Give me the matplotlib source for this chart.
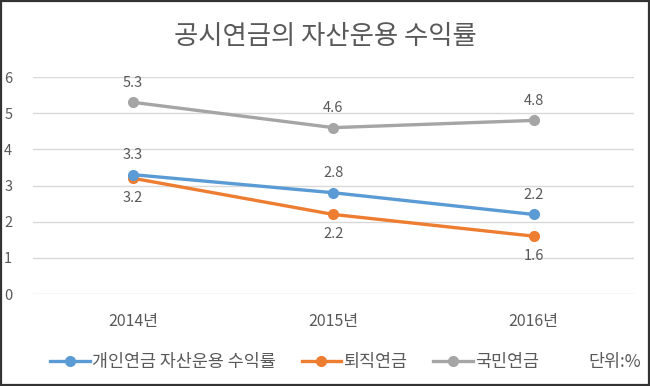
import matplotlib
matplotlib.use("Agg")
import matplotlib.pyplot as plt
from matplotlib.patches import Rectangle

plt.rcParams["font.family"] = ["Noto Sans CJK KR", "DejaVu Sans"]

# data
years = ["2014년", "2015년", "2016년"]
personal = [3.3, 2.8, 2.2]
retire = [3.2, 2.2, 1.6]
national = [5.3, 4.6, 4.8]
series_names = ["개인연금 자산운용 수익률", "퇴직연금", "국민연금"]
colors = ["#5B9BD5", "#ED7D31", "#A5A5A5"]
yticks = [0, 1, 2, 3, 4, 5, 6]

TXT = "#595959"

fig = plt.figure(figsize=(6.5, 3.86), dpi=100)
ax = fig.add_axes([0.0508, 0.2383, 0.9242, 0.5622])

x = list(range(len(years)))
# national first so the other two sit on top
ax.plot(x, national, color=colors[2], lw=2.4, marker="o", ms=7, label=series_names[2], zorder=3)
ax.plot(x, retire, color=colors[1], lw=2.4, marker="o", ms=7, label=series_names[1], zorder=4)
ax.plot(x, personal, color=colors[0], lw=2.4, marker="o", ms=7, label=series_names[0], zorder=5)

# data labels
for xi, v in zip(x, national):
    ax.annotate(f"{v}", (xi, v), xytext=(0, 9), textcoords="offset points",
                ha="center", va="bottom", fontsize=10.5, color=TXT)
for xi, v in zip(x, personal):
    ax.annotate(f"{v}", (xi, v), xytext=(0, 9), textcoords="offset points",
                ha="center", va="bottom", fontsize=10.5, color=TXT)
for xi, v in zip(x, retire):
    ax.annotate(f"{v}", (xi, v), xytext=(0, -9), textcoords="offset points",
                ha="center", va="top", fontsize=10.5, color=TXT)

ax.set_xlim(-0.5, 2.5)
ax.set_ylim(0, 6)
ax.set_yticks(yticks)
ax.set_xticks(x)
ax.set_xticklabels(years)
ax.grid(axis="y", color="#D9D9D9", lw=1)
ax.set_axisbelow(True)
for s in ax.spines.values():
    s.set_visible(False)
ax.tick_params(length=0, labelcolor=TXT)
ax.tick_params(axis="y", pad=15, labelsize=10.5)
ax.tick_params(axis="x", pad=14, labelsize=11.5)

fig.text(0.5, 0.905, "공시연금의 자산운용 수익률", ha="center", va="center",
         fontsize=19, color=TXT)

handles, labels = ax.get_legend_handles_labels()
order = [2, 1, 0]
fig.legend([handles[i] for i in order], [labels[i] for i in order],
           loc="center left", bbox_to_anchor=(0.077, 0.062), ncol=3, frameon=False,
           fontsize=12.5, labelcolor=TXT, handlelength=2.3, handletextpad=0.1,
           columnspacing=1.5, borderaxespad=0, borderpad=0)
fig.text(0.905, 0.062, "단위:%", ha="left", va="center", fontsize=12.5, color=TXT)

# outer border
fig.add_artist(Rectangle((0.002, 0.003), 0.996, 0.994, transform=fig.transFigure,
                         fill=False, edgecolor="#333333", lw=1.6))

fig.savefig("out.png", dpi=100)
